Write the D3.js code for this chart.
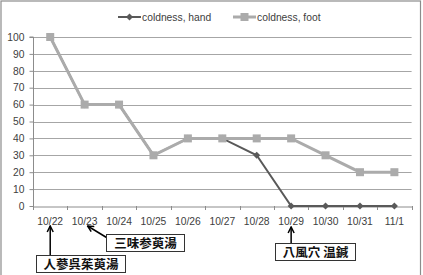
<!DOCTYPE html>
<html><head><meta charset="utf-8">
<script src="https://cdn.jsdelivr.net/npm/d3@7"></script>
<style>body{margin:0;background:#fff}svg{display:block}</style>
</head><body>
<svg id="c" width="423" height="275"></svg>
<script>
const categories = ["10/22","10/23","10/24","10/25","10/26","10/27","10/28","10/29","10/30","10/31","11/1"];
const handValues = [100,60,60,30,40,40,30,0,0,0,0];
const footValues = [100,60,60,30,40,40,40,40,30,20,20];
const yTicks = [0,10,20,30,40,50,60,70,80,90,100];
const seriesNames = ["coldness, hand","coldness, foot"];
const annotations = [
  {text:"人蔘呉茱萸湯", cat:"10/22"},
  {text:"三味参萸湯", cat:"10/23"},
  {text:"八風穴 温鍼", cat:"10/29"}
];

const svg = d3.select("#c");
const font = "'Liberation Sans', Arial, sans-serif";
const cjk = "'Noto Sans CJK JP', sans-serif";

// frame
svg.append("rect").attr("x",1).attr("y",1).attr("width",419.5).attr("height",290)
  .attr("fill","none").attr("stroke","#8c8c8c").attr("stroke-width",1.2);

const x = d3.scaleBand().domain(categories).range([33,411.6]);
const y = d3.scaleLinear().domain([0,100]).range([206,37]);

// gridlines
svg.append("g").selectAll("line").data(yTicks.filter(d=>d>0)).join("line")
  .attr("x1",33).attr("x2",411.6)
  .attr("y1",d=>Math.round(y(d))+0.5).attr("y2",d=>Math.round(y(d))+0.5)
  .attr("stroke","#a6a6a6").attr("stroke-width",1);

// y axis
const ya = svg.append("g").attr("transform","translate(33.5,0)")
  .call(d3.axisLeft(y).tickValues(yTicks).tickSize(4).tickPadding(5));
ya.select(".domain").attr("stroke","#8c8c8c").attr("d","M-4,"+(y(100))+"H0V"+y(0));
ya.selectAll(".tick line").attr("stroke","#8c8c8c");
ya.selectAll("text").attr("font-family",font).attr("font-size",10.3).attr("fill","#404040");

// x axis
const xa = svg.append("g").attr("transform","translate(0,"+(Math.round(y(0))+0.5)+")")
  .call(d3.axisBottom(x).tickSize(0).tickPadding(11));
xa.select(".domain").attr("stroke","#8c8c8c");
xa.selectAll("text").attr("font-family",font).attr("font-size",10.3).attr("fill","#404040");
svg.append("g").selectAll("line").data(d3.range(categories.length+1)).join("line")
  .attr("x1",i=>Math.round(33+i*x.step())+0.5).attr("x2",i=>Math.round(33+i*x.step())+0.5)
  .attr("y1",Math.round(y(0))).attr("y2",Math.round(y(0))+4)
  .attr("stroke","#8c8c8c");

const cx = c => x(c)+x.bandwidth()/2;
const line = d3.line().x((d,i)=>cx(categories[i])).y(d=>y(d));

// hand series
const handColor = "#595959", footColor = "#ababab";
svg.append("path").datum(handValues).attr("d",line).attr("fill","none")
  .attr("stroke",handColor).attr("stroke-width",2);
const diamond = d3.symbol().type(d3.symbolDiamond2).size(32);
svg.append("g").selectAll("path").data(handValues).join("path")
  .attr("transform",(d,i)=>`translate(${cx(categories[i])},${y(d)})`)
  .attr("d",diamond).attr("fill",handColor);

// foot series
svg.append("path").datum(footValues).attr("d",line).attr("fill","none")
  .attr("stroke",footColor).attr("stroke-width",3);
svg.append("g").selectAll("rect").data(footValues).join("rect")
  .attr("x",(d,i)=>cx(categories[i])-4).attr("y",d=>y(d)-4)
  .attr("width",8).attr("height",8).attr("fill",footColor);

// legend
const lg = svg.append("g");
lg.append("line").attr("x1",118).attr("x2",141).attr("y1",17).attr("y2",17).attr("stroke",handColor).attr("stroke-width",2);
lg.append("path").attr("transform","translate(129.5,17)").attr("d",diamond).attr("fill",handColor);
lg.append("text").attr("x",142).attr("y",20.5).text(seriesNames[0])
  .attr("font-family",font).attr("font-size",10.3).attr("fill","#404040");
lg.append("line").attr("x1",233).attr("x2",256).attr("y1",17).attr("y2",17).attr("stroke",footColor).attr("stroke-width",3);
lg.append("rect").attr("x",240.5).attr("y",13).attr("width",8).attr("height",8).attr("fill",footColor);
lg.append("text").attr("x",257).attr("y",20.5).text(seriesNames[1])
  .attr("font-family",font).attr("font-size",10.3).attr("fill","#404040");

// annotations
const defs = svg.append("defs");
defs.append("marker").attr("id","ah").attr("viewBox","0 0 10 10").attr("refX",9).attr("refY",5)
  .attr("markerWidth",5).attr("markerHeight",5).attr("orient","auto-start-reverse")
  .append("path").attr("d","M1,1L9,5L1,9").attr("fill","none").attr("stroke","#000").attr("stroke-width",2);

const boxes = [
  {x:36, y:255, w:89, h:17, ax1:cx(annotations[0].cat), ay1:255, ax2:cx(annotations[0].cat), ay2:226},
  {x:106, y:234, w:78, h:17, ax1:109, ay1:239, ax2:cx(annotations[1].cat)+3, ay2:226},
  {x:275, y:243, w:80, h:17, ax1:cx(annotations[2].cat), ay1:243, ax2:cx(annotations[2].cat), ay2:227}
];
annotations.forEach((a,i)=>{
  const b = boxes[i];
  svg.append("line").attr("x1",b.ax1).attr("y1",b.ay1).attr("x2",b.ax2).attr("y2",b.ay2)
    .attr("stroke","#000").attr("stroke-width",1.5).attr("marker-end","url(#ah)");
  svg.append("rect").attr("x",b.x+0.5).attr("y",b.y+0.5).attr("width",b.w).attr("height",b.h)
    .attr("fill","#fff").attr("stroke","#333").attr("stroke-width",1);
  svg.append("text").attr("x",b.x+b.w/2+0.5).attr("y",b.y+b.h/2+5).attr("text-anchor","middle")
    .attr("font-family",cjk).attr("font-size",12.5).attr("font-weight",700).attr("fill","#111")
    .text(a.text);
});
</script>
</body></html>
